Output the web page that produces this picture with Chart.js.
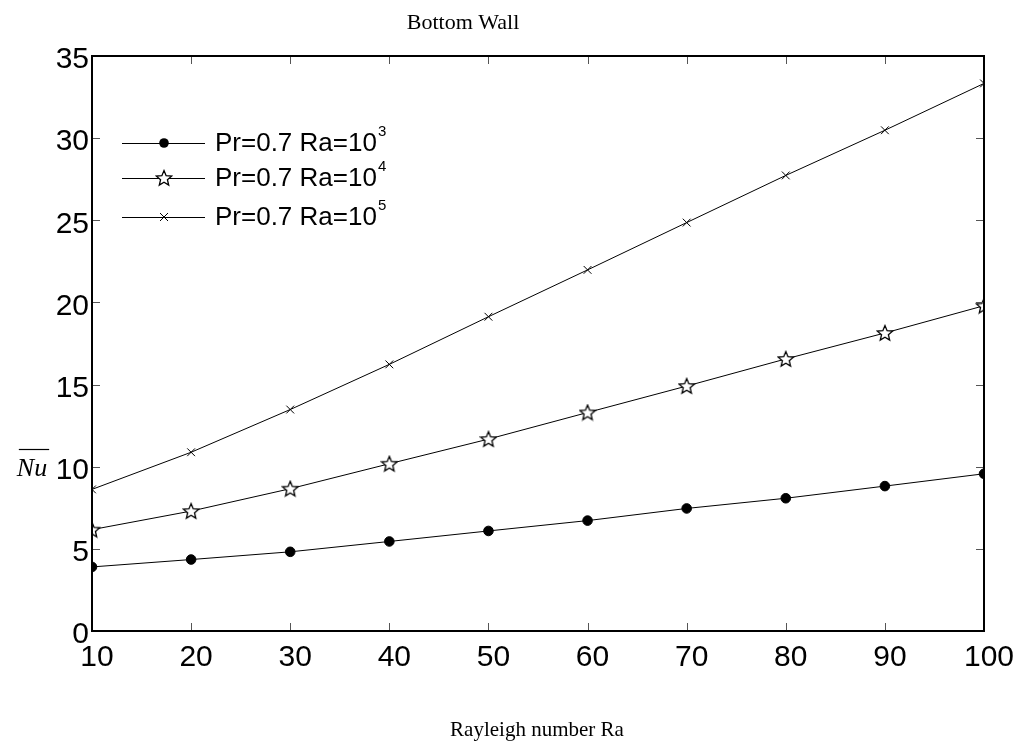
<!DOCTYPE html>
<html>
<head>
<meta charset="utf-8">
<title>Bottom Wall</title>
<script src="https://cdn.jsdelivr.net/npm/chart.js@4.4.1/dist/chart.umd.min.js"></script>
<style>
  html, body { margin: 0; padding: 0; background: #fff; }
  #wrap { width: 1022px; height: 744px; }
</style>
</head>
<body>
<div id="wrap"><canvas id="nuChart" width="1022" height="744"></canvas></div>
<script>
// Average Nusselt number on the bottom wall
const rayleigh = [10, 20, 30, 40, 50, 60, 70, 80, 90, 100];
const nuRa3 = [3.90, 4.35, 4.82, 5.45, 6.09, 6.72, 7.46, 8.08, 8.82, 9.57];
const nuRa4 = [6.17, 7.30, 8.66, 10.18, 11.68, 13.30, 14.91, 16.56, 18.14, 19.80];
const nuRa5 = [8.62, 10.88, 13.48, 16.23, 19.13, 21.98, 24.86, 27.73, 30.48, 33.33];
const xTicks = [10, 20, 30, 40, 50, 60, 70, 80, 90, 100];
const yTicks = [0, 5, 10, 15, 20, 25, 30, 35];
const legendBase = ['Pr=0.7 Ra=10', 'Pr=0.7 Ra=10', 'Pr=0.7 Ra=10'];
const legendExp = ['3', '4', '5'];

// hollow five-point star used as a marker
function makeStar(size) {
  const c = document.createElement('canvas');
  c.width = size; c.height = size;
  const g = c.getContext('2d');
  const cx = size / 2, cy = size / 2 + 0.6;
  const ro = size / 2 - 1, ri = ro * 0.45;
  g.beginPath();
  for (let i = 0; i < 10; i++) {
    const r = i % 2 ? ri : ro;
    const a = -Math.PI / 2 + i * Math.PI / 5;
    const px = cx + r * Math.cos(a), py = cy + r * Math.sin(a);
    i ? g.lineTo(px, py) : g.moveTo(px, py);
  }
  g.closePath();
  g.fillStyle = '#fff';
  g.fill();
  g.lineWidth = 1.3;
  g.strokeStyle = '#000';
  g.stroke();
  return c;
}
const starImg = makeStar(18);

function pts(ys) {
  return rayleigh.map((x, i) => ({ x: x, y: ys[i] }));
}

const markerStyles = ['circle', starImg, 'crossRot'];

// box, inward ticks, titles and legend
const framePlugin = {
  id: 'frame',
  afterDraw(chart) {
    const ctx = chart.ctx;
    const a = chart.chartArea;
    const xs = chart.scales.x, ys = chart.scales.y;
    const tl = 8;
    ctx.save();
    ctx.strokeStyle = '#555';
    ctx.lineWidth = 1;
    ctx.beginPath();
    xTicks.forEach(v => {
      const px = Math.round(xs.getPixelForValue(v)) + 0.5;
      ctx.moveTo(px, a.bottom); ctx.lineTo(px, a.bottom - tl);
      ctx.moveTo(px, a.top); ctx.lineTo(px, a.top + tl);
    });
    yTicks.forEach(v => {
      const py = Math.round(ys.getPixelForValue(v)) + 0.5;
      ctx.moveTo(a.left, py); ctx.lineTo(a.left + tl, py);
      ctx.moveTo(a.right, py); ctx.lineTo(a.right - tl, py);
    });
    ctx.stroke();

    ctx.strokeStyle = '#000';
    ctx.lineWidth = 2;
    ctx.strokeRect(a.left, a.top, a.right - a.left, a.bottom - a.top);

    // titles
    ctx.fillStyle = '#000';
    ctx.textAlign = 'center';
    ctx.textBaseline = 'middle';
    ctx.font = '22px "Liberation Serif", "Times New Roman", serif';
    ctx.fillText('Bottom Wall', 463, 23);
    ctx.font = '21px "Liberation Serif", "Times New Roman", serif';
    ctx.fillText('Rayleigh number Ra', 537, 730);

    ctx.font = 'italic 26px "Liberation Serif", "Times New Roman", serif';
    ctx.fillText('Nu', 32, 469);
    const w = ctx.measureText('Nu').width;
    ctx.lineWidth = 1.2;
    ctx.beginPath();
    ctx.moveTo(32 - w / 2 + 2, 449.5);
    ctx.lineTo(32 + w / 2 + 2, 449.5);
    ctx.stroke();

    // legend
    const rows = [143, 178, 217];
    rows.forEach((ry, i) => {
      ctx.strokeStyle = '#000';
      ctx.lineWidth = 1;
      ctx.beginPath();
      ctx.moveTo(122, ry + 0.5);
      ctx.lineTo(205, ry + 0.5);
      ctx.stroke();
      const mx = 164;
      if (i === 0) {
        ctx.beginPath();
        ctx.arc(mx, ry, 4.8, 0, Math.PI * 2);
        ctx.fillStyle = '#000';
        ctx.fill();
      } else if (i === 1) {
        ctx.drawImage(starImg, mx - 9, ry - 9);
      } else {
        ctx.beginPath();
        ctx.moveTo(mx - 4, ry - 4); ctx.lineTo(mx + 4, ry + 4);
        ctx.moveTo(mx - 4, ry + 4); ctx.lineTo(mx + 4, ry - 4);
        ctx.stroke();
      }
      ctx.fillStyle = '#000';
      ctx.textAlign = 'left';
      ctx.textBaseline = 'middle';
      ctx.font = '26px "Liberation Sans", Arial, sans-serif';
      ctx.fillText(legendBase[i], 215, ry + 1);
      const tw = ctx.measureText(legendBase[i]).width;
      ctx.font = '15px "Liberation Sans", Arial, sans-serif';
      ctx.fillText(legendExp[i], 215 + tw + 1, ry - 11);
    });
    ctx.restore();
  }
};

const tickFont = { family: '"Liberation Sans", Arial, sans-serif', size: 30 };

new Chart(document.getElementById('nuChart').getContext('2d'), {
  type: 'line',
  data: {
    datasets: [
      { data: pts(nuRa3), pointStyle: markerStyles[0], pointRadius: 4.8, pointBackgroundColor: '#000' },
      { data: pts(nuRa4), pointStyle: markerStyles[1], pointRadius: 8 },
      { data: pts(nuRa5), pointStyle: markerStyles[2], pointRadius: 5.5, pointBorderWidth: 1 }
    ].map(d => Object.assign({
      borderColor: '#000',
      borderWidth: 1,
      pointBorderColor: '#000',
      fill: false,
      tension: 0
    }, d))
  },
  options: {
    responsive: false,
    devicePixelRatio: 1,
    animation: false,
    events: [],
    layout: { padding: { left: 0, top: 56, right: 38, bottom: 0 } },
    plugins: { legend: { display: false }, tooltip: { enabled: false } },
    scales: {
      x: {
        type: 'linear',
        min: 10, max: 100,
        afterBuildTicks: s => { s.ticks = xTicks.map(v => ({ value: v })); },
        afterFit: s => { s.height = 113; },
        grid: { display: false, drawTicks: false },
        border: { display: false },
        ticks: { color: '#000', font: tickFont, padding: 9, maxRotation: 0, labelOffset: 5 }
      },
      y: {
        min: 0, max: 35,
        afterBuildTicks: s => { s.ticks = yTicks.map(v => ({ value: v })); },
        afterFit: s => { s.width = 92; },
        grid: { display: false, drawTicks: false },
        border: { display: false },
        ticks: { color: '#000', font: tickFont, padding: 3, labelOffset: 4 }
      }
    }
  },
  plugins: [framePlugin]
});
</script>
</body>
</html>
